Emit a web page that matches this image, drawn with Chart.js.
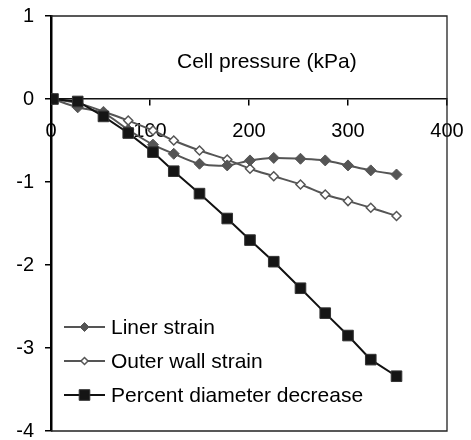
<!DOCTYPE html>
<html>
<head>
<meta charset="utf-8">
<script src="https://cdn.jsdelivr.net/npm/chart.js@4.4.1/dist/chart.umd.min.js"></script>
<style>
  body { margin: 0; background: #fff; }
  #wrap { width: 471px; height: 440px; }
</style>
</head>
<body>
<div id="wrap"><canvas id="strain-chart" width="471" height="440"></canvas></div>
<script>
// cell pressure (kPa)
var pressure = [2, 27, 53, 78, 103, 124, 150, 178, 201, 225, 252, 277, 300, 323, 349];
var linerStrain = [0, -0.10, -0.17, -0.37, -0.55, -0.66, -0.78, -0.80, -0.74, -0.71, -0.72, -0.74, -0.80, -0.86, -0.91];
var outerWallStrain = [0, -0.05, -0.15, -0.26, -0.38, -0.50, -0.62, -0.73, -0.84, -0.93, -1.03, -1.15, -1.23, -1.31, -1.41];
var diameterDecrease = [0, -0.03, -0.21, -0.41, -0.64, -0.87, -1.14, -1.44, -1.70, -1.96, -2.28, -2.58, -2.85, -3.14, -3.34];
var seriesNames = ['Liner strain', 'Outer wall strain', 'Percent diameter decrease'];
var xTicks = [0, 100, 200, 300, 400];
var yTicks = [-4, -3, -2, -1, 0, 1];
var axisTitle = 'Cell pressure (kPa)';

var FONT = '"Liberation Sans", Arial, sans-serif';

function toPoints(xs, ys) {
    return xs.map(function (x, i) { return { x: x, y: ys[i] }; });
}

// plot area border (top, right, bottom)
var framePlugin = {
    id: 'frame',
    afterDraw: function (chart) {
        var a = chart.chartArea;
        var ctx = chart.ctx;
        ctx.save();
        ctx.strokeStyle = '#222';
        ctx.lineWidth = 1.3;
        ctx.beginPath();
        ctx.moveTo(a.left, a.top);
        ctx.lineTo(a.right, a.top);
        ctx.lineTo(a.right, a.bottom);
        ctx.lineTo(a.left, a.bottom);
        ctx.stroke();
        ctx.restore();
    }
};

// axis title sits inside the plot, above the axis
var titlePlugin = {
    id: 'innerTitle',
    afterDraw: function (chart) {
        var ctx = chart.ctx;
        var x = chart.scales.x.getPixelForValue(218);
        var y = chart.scales.y.getPixelForValue(0.44);
        ctx.save();
        ctx.font = '21px ' + FONT;
        ctx.fillStyle = '#000';
        ctx.textAlign = 'center';
        ctx.textBaseline = 'middle';
        ctx.fillText(axisTitle, x, y);
        ctx.restore();
    }
};

function drawMarker(ctx, style, x, y, r, fill, stroke, lw) {
    ctx.beginPath();
    if (style === 'rect') {
        var s = r * Math.SQRT1_2;
        ctx.rect(x - s, y - s, 2 * s, 2 * s);
    } else {
        ctx.moveTo(x, y - r);
        ctx.lineTo(x + r, y);
        ctx.lineTo(x, y + r);
        ctx.lineTo(x - r, y);
        ctx.closePath();
    }
    ctx.fillStyle = fill;
    ctx.fill();
    ctx.strokeStyle = stroke;
    ctx.lineWidth = lw;
    ctx.stroke();
}

// legend in the lower left of the plot
var legendPlugin = {
    id: 'innerLegend',
    afterDraw: function (chart) {
        var a = chart.chartArea;
        var ctx = chart.ctx;
        var rows = [-104, -70, -36];
        ctx.save();
        chart.data.datasets.forEach(function (ds, i) {
            var y = a.bottom + rows[i];
            var x0 = a.left + 13;
            ctx.strokeStyle = ds.borderColor;
            ctx.lineWidth = ds.borderWidth;
            ctx.beginPath();
            ctx.moveTo(x0, y);
            ctx.lineTo(x0 + 41, y);
            ctx.stroke();
            drawMarker(ctx, ds.pointStyle, x0 + 20.5, y, ds.legendRadius,
                ds.pointBackgroundColor, ds.pointBorderColor, ds.pointBorderWidth);
            ctx.font = '21px ' + FONT;
            ctx.fillStyle = '#000';
            ctx.textAlign = 'left';
            ctx.textBaseline = 'middle';
            ctx.fillText(ds.label, x0 + 47, y + 1);
        });
        ctx.restore();
    }
};

const ctx = document.getElementById('strain-chart');

const config = {
    type: 'line',
    data: {
        datasets: [
            {
                label: seriesNames[0],
                data: toPoints(pressure, linerStrain),
                borderColor: '#555',
                borderWidth: 2,
                pointStyle: 'rectRot',
                pointRadius: 5.5,
                pointBackgroundColor: '#555',
                pointBorderColor: '#555',
                pointBorderWidth: 1,
                legendRadius: 4.5,
                tension: 0.3,
                order: 1
            },
            {
                label: seriesNames[1],
                data: toPoints(pressure, outerWallStrain),
                borderColor: '#555',
                borderWidth: 2,
                pointStyle: 'rectRot',
                pointRadius: 4.5,
                pointBackgroundColor: '#fff',
                pointBorderColor: '#555',
                pointBorderWidth: 1.5,
                legendRadius: 3.5,
                tension: 0.3,
                order: 2
            },
            {
                label: seriesNames[2],
                data: toPoints(pressure, diameterDecrease),
                borderColor: '#111',
                borderWidth: 2,
                pointStyle: 'rect',
                pointRadius: 7.5,
                pointBackgroundColor: '#151515',
                pointBorderColor: '#333',
                pointBorderWidth: 1,
                legendRadius: 7.5,
                tension: 0,
                order: 0
            }
        ]
    },
    options: {
        responsive: false,
        animation: false,
        layout: {
            padding: { left: 0, right: 24, top: 16, bottom: 9 }
        },
        plugins: {
            legend: { display: false },
            tooltip: { enabled: false }
        },
        scales: {
            x: {
                type: 'linear',
                position: { y: 0 },
                min: 0,
                max: 400,
                z: 1,
                afterBuildTicks: function (axis) {
                    axis.ticks = xTicks.map(function (v) { return { value: v }; });
                },
                afterFit: function (axis) {
                    axis.paddingLeft = 0;
                    axis.paddingRight = 0;
                },
                ticks: {
                    color: '#000',
                    font: { family: FONT, size: 20 },
                    padding: 14,
                    showLabelBackdrop: true,
                    backdropColor: '#fff',
                    backdropPadding: 0
                },
                grid: {
                    drawOnChartArea: false,
                    drawTicks: true,
                    tickLength: 6,
                    color: '#000',
                    lineWidth: 1.5
                },
                border: { display: true, color: '#111', width: 1.5 }
            },
            y: {
                type: 'linear',
                min: -4,
                max: 1,
                z: 2,
                afterBuildTicks: function (axis) {
                    axis.ticks = yTicks.map(function (v) { return { value: v }; });
                },
                afterFit: function (axis) {
                    axis.width = 51;
                    axis.paddingTop = 0;
                    axis.paddingBottom = 0;
                },
                ticks: {
                    color: '#000',
                    font: { family: FONT, size: 20 },
                    padding: 11
                },
                grid: {
                    drawOnChartArea: false,
                    drawTicks: true,
                    tickLength: 6,
                    color: '#000',
                    lineWidth: 1.5
                },
                border: { display: true, color: '#000', width: 2.5 }
            }
        }
    },
    plugins: [framePlugin, titlePlugin, legendPlugin]
};

var chart = new Chart(ctx, config);
</script>
</body>
</html>
